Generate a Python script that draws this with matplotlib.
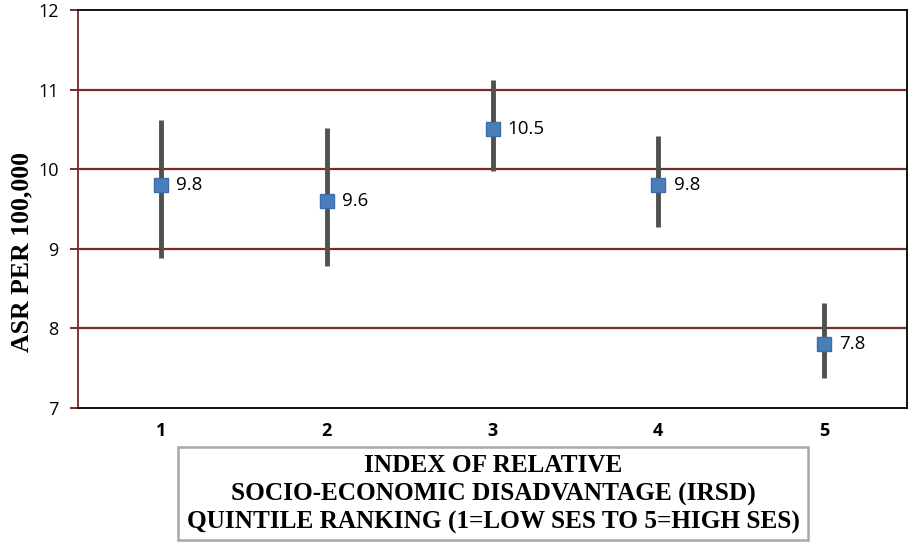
import matplotlib.pyplot as plt
from matplotlib.patches import Rectangle

# Данные
quintiles = [1, 2, 3, 4, 5]
asr = [9.8, 9.6, 10.5, 9.8, 7.8]
ci_low = [8.88, 8.78, 9.98, 9.27, 7.38]
ci_high = [10.62, 10.52, 11.12, 10.42, 8.32]
labels = ["9.8", "9.6", "10.5", "9.8", "7.8"]

err_low = [a - l for a, l in zip(asr, ci_low)]
err_high = [h - a for a, h in zip(asr, ci_high)]

fig = plt.figure(figsize=(9.13, 5.44), dpi=100)
ax = fig.add_axes([78 / 913, 1 - 408 / 544, 829 / 913, 398 / 544])

ax.set_xlim(0.5, 5.5)
ax.set_ylim(7, 12)
ax.set_yticks([7, 8, 9, 10, 11, 12])
ax.set_xticks(quintiles)

for y in [8, 9, 10, 11]:
    ax.axhline(y, color="#7b2a2a", linewidth=1.6, zorder=1)

ax.errorbar(quintiles, asr, yerr=[err_low, err_high], fmt="none",
            ecolor="#505050", elinewidth=3.5, capsize=0, zorder=2)
ax.plot(quintiles, asr, linestyle="none", marker="s", markersize=10,
        color="#4a7ebb", markeredgecolor="#3c6eae", zorder=3)

for x, y, t in zip(quintiles, asr, labels):
    ax.annotate(t, (x, y), xytext=(11, 0), textcoords="offset points",
                va="center", ha="left", fontsize=13.5, family="Open Sans")

for s in ax.spines.values():
    s.set_color("black")
    s.set_linewidth(1.3)
ax.spines["left"].set_color("#6b2a2a")

ax.tick_params(axis="y", direction="out", length=6, width=1.4, color="#7b2a2a",
               labelsize=13, pad=8)
ax.tick_params(axis="x", length=0, labelsize=13, pad=10)
for lbl in ax.get_yticklabels():
    lbl.set_family("Open Sans")
for lbl in ax.get_xticklabels():
    lbl.set_family("Open Sans")
    lbl.set_fontweight("bold")

fig.text(22 / 913, 1 - 252 / 544, "ASR PER 100,000", rotation=90,
         ha="center", va="center", family="Liberation Serif",
         fontweight="bold", fontsize=18.5)

fig.patches.append(Rectangle((178 / 913, 1 - 540 / 544), 630 / 913, 93 / 544,
                             transform=fig.transFigure, facecolor="white",
                             edgecolor="#a8a8a8", linewidth=1.8))
fig.text(493 / 913, 1 - 494 / 544,
         "INDEX OF RELATIVE\nSOCIO-ECONOMIC DISADVANTAGE (IRSD)\nQUINTILE RANKING (1=LOW SES TO 5=HIGH SES)",
         ha="center", va="center", family="Liberation Serif", fontweight="bold",
         fontsize=18.2, linespacing=1.3)

plt.savefig("out.png", dpi=100)
